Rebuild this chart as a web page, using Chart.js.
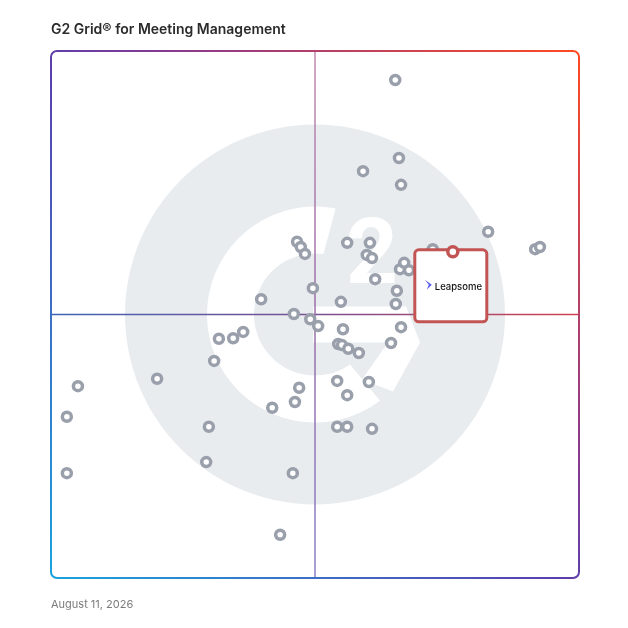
<!DOCTYPE html>
<html>
<head>
<meta charset="utf-8">
<script src="https://cdn.jsdelivr.net/npm/chart.js@4.4.1/dist/chart.umd.min.js"></script>
<style>
  html, body { margin: 0; padding: 0; background: #fff; }
  #wrap { position: relative; width: 628px; height: 628px; }
  #title { position: absolute; left: 51px; top: 20px; font: 600 14px Inter, "Noto Sans", sans-serif; color: #2b2b2b; }
  #date { position: absolute; left: 51px; top: 597px; font: 400 11px Inter, "Noto Sans", sans-serif; color: #7b7b7b; }
</style>
</head>
<body>
<div id="wrap">
  <canvas id="grid" width="628" height="628"></canvas>
  <div id="title">G2 Grid® for Meeting Management</div>
  <div id="date">August 11, 2026</div>
</div>
<script>
// satisfaction (x) and market presence (y), 0..100
const otherX = [65.2, 65.9, 59.1, 66.3, 82.8, 91.7, 92.6, 56.1, 60.4, 59.8, 60.8, 61.4, 65.5, 65.3, 54.9,
  66.1, 66.9, 67.8, 72.3, 46.6, 47.3, 48.1, 49.6, 39.8, 46.0, 49.1, 50.6, 31.8, 34.5, 36.4, 30.9, 20.1,
  5.1, 3.0, 29.9, 29.4, 3.0, 47.0, 46.2, 41.9, 45.8, 43.4, 55.3, 66.3, 64.4, 54.4, 55.1, 56.3, 58.3,
  54.2, 60.2, 56.1, 54.2, 56.1, 60.8];
const otherY = [94.5, 79.7, 77.2, 74.6, 65.7, 62.4, 62.8, 63.6, 63.6, 61.3, 60.7, 56.7, 54.5, 52.0, 52.4,
  58.6, 59.8, 58.4, 62.4, 63.8, 62.8, 61.5, 55.0, 52.9, 50.1, 49.1, 47.8, 45.4, 45.5, 46.7, 41.2, 37.8,
  36.4, 30.6, 28.7, 22.0, 19.9, 36.1, 33.4, 32.3, 19.9, 8.2, 47.2, 47.6, 44.6, 44.4, 44.2, 43.5, 42.7,
  37.4, 37.2, 34.7, 28.7, 28.7, 28.3];
const featuredName = "Leapsome";
const featuredX = [76.1];
const featuredY = [61.9];

const toPoints = (xs, ys) => xs.map((x, i) => ({ x: x, y: ys[i] }));

// big G2 watermark and the quadrant lines, under the dots
const backdrop = {
  id: "backdrop",
  beforeDatasetsDraw(chart) {
    const { ctx, chartArea: a, scales } = chart;
    const cx = scales.x.getPixelForValue(50);
    const cy = scales.y.getPixelForValue(50);
    const u = (a.right - a.left) / 528;
    const rad = d => d * Math.PI / 180;
    ctx.save();
    ctx.fillStyle = "#e9ecef";
    ctx.beginPath();
    ctx.arc(cx, cy, 190 * u, 0, Math.PI * 2);
    ctx.fill();
    // the G ring
    ctx.fillStyle = "#ffffff";
    ctx.beginPath();
    ctx.arc(cx, cy, 108 * u, rad(-79), rad(53), true);
    ctx.arc(cx, cy, 61 * u, rad(55), rad(-82), false);
    ctx.closePath();
    ctx.fill();
    // crossbar + chevron
    const P = (dx, dy) => [cx + dx * u, cy + dy * u];
    const poly = [P(-2, -8), P(91, -8), P(105, 28), P(78, 77), P(47, 65), P(73, 28), P(-2, 28)];
    ctx.beginPath();
    poly.forEach((p, i) => i ? ctx.lineTo(p[0], p[1]) : ctx.moveTo(p[0], p[1]));
    ctx.closePath();
    ctx.fill();
    // the 2, fitted to its box (top -98, bottom -32, centre +57 from the middle)
    ctx.font = "bold 100px Roboto, sans-serif";
    const m = ctx.measureText("2");
    const gh = m.actualBoundingBoxAscent + m.actualBoundingBoxDescent;
    const s = (66 * u) / gh;
    ctx.save();
    ctx.translate(cx + 57 * u, cy - 32 * u);
    ctx.scale(s, s);
    ctx.textAlign = "center";
    ctx.textBaseline = "alphabetic";
    ctx.fillText("2", 0, -m.actualBoundingBoxDescent);
    ctx.restore();
    // quadrant lines
    ctx.lineWidth = 1.5;
    let g = ctx.createLinearGradient(a.left, 0, a.right, 0);
    g.addColorStop(0, "#3f63b6");
    g.addColorStop(0.5, "#7a4f92");
    g.addColorStop(1, "#d0434f");
    ctx.strokeStyle = g;
    ctx.beginPath();
    ctx.moveTo(a.left, cy);
    ctx.lineTo(a.right, cy);
    ctx.stroke();
    g = ctx.createLinearGradient(0, a.top, 0, a.bottom);
    g.addColorStop(0, "#c08bb0");
    g.addColorStop(0.5, "#9a6ea8");
    g.addColorStop(1, "#8a80c8");
    ctx.strokeStyle = g;
    ctx.beginPath();
    ctx.moveTo(cx, a.top);
    ctx.lineTo(cx, a.bottom);
    ctx.stroke();
    ctx.restore();
  }
};

// callout box for the featured product, drawn between the grey dots and its red dot
const callout = {
  id: "callout",
  afterDatasetDraw(chart, args) {
    if (args.index !== 0) return;
    const { ctx, scales } = chart;
    const px = scales.x.getPixelForValue(featuredX[0]);
    const py = scales.y.getPixelForValue(featuredY[0]);
    const w = 72, h = 72;
    const left = px - 38, top = py - 2;
    ctx.save();
    ctx.fillStyle = "#ffffff";
    ctx.strokeStyle = "#c25454";
    ctx.lineWidth = 3;
    ctx.beginPath();
    ctx.roundRect(left, top, w, h, 4);
    ctx.fill();
    ctx.stroke();
    // little logo mark
    ctx.fillStyle = "#5a5ef0";
    ctx.beginPath();
    ctx.moveTo(left + 10, top + 30);
    ctx.lineTo(left + 17, top + 35);
    ctx.lineTo(left + 12, top + 40);
    ctx.lineTo(left + 14, top + 35);
    ctx.closePath();
    ctx.fill();
    ctx.fillStyle = "#111111";
    ctx.font = "500 9.5px Inter, sans-serif";
    ctx.textAlign = "left";
    ctx.textBaseline = "middle";
    ctx.fillText(featuredName, left + 20, top + 37);
    ctx.restore();
  }
};

// gradient frame on top
const frame = {
  id: "frame",
  afterDraw(chart) {
    const { ctx, chartArea: a } = chart;
    const g = ctx.createLinearGradient(a.left, a.bottom, a.right, a.top);
    g.addColorStop(0, "#1aa3dc");
    g.addColorStop(0.48, "#5a3fae");
    g.addColorStop(0.62, "#8a3a8e");
    g.addColorStop(1, "#ff4a22");
    ctx.save();
    ctx.strokeStyle = g;
    ctx.lineWidth = 2;
    ctx.beginPath();
    ctx.roundRect(a.left, a.top, a.right - a.left, a.bottom - a.top, 6);
    ctx.stroke();
    ctx.restore();
  }
};

new Chart(document.getElementById("grid"), {
  type: "scatter",
  data: {
    datasets: [
      {
        label: "Products",
        data: toPoints(otherX, otherY),
        order: 2,
        pointRadius: 4.5,
        pointBorderWidth: 3.5,
        pointBackgroundColor: "#ffffff",
        pointBorderColor: "#9aa0ab",
      },
      {
        label: featuredName,
        data: toPoints(featuredX, featuredY),
        order: 1,
        pointRadius: 5,
        pointBorderWidth: 3.5,
        pointBackgroundColor: "#ffffff",
        pointBorderColor: "#c25454",
      },
    ],
  },
  options: {
    responsive: false,
    animation: false,
    layout: { padding: { left: 51, top: 51, right: 49, bottom: 50 } },
    scales: {
      x: { display: false, min: 0, max: 100 },
      y: { display: false, min: 0, max: 100 },
    },
    plugins: {
      legend: { display: false },
      tooltip: { enabled: false },
    },
  },
  plugins: [backdrop, callout, frame],
});
</script>
</body>
</html>
